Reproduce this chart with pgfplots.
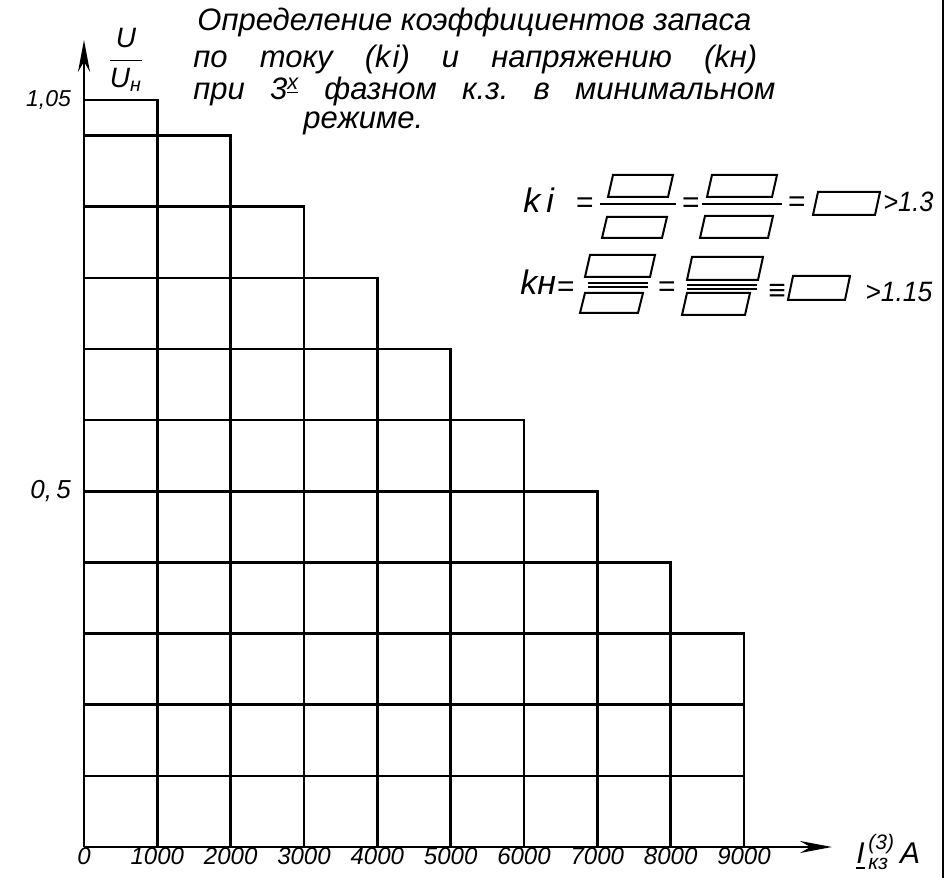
\documentclass[border=0pt]{standalone}
\usepackage{amsmath}
\usepackage{graphicx}
\usepackage{fontspec}
\setmainfont{Liberation Sans}
\usepackage{pgfplots}
\pgfplotsset{compat=1.18}
\usetikzlibrary{arrows.meta}
\frenchspacing

% parallelogram box: left x, top y, right x, bottom y (px, y down)
\newcommand{\pbox}[4]{\draw[line width=1pt] ({#1+5},#2) -- (#3,#2) -- ({#3-5},#4) -- (#1,#4) -- cycle;}
% text from x1 to x2 (px) on baseline y
\newcommand{\w}[4]{\node[anchor=base west, inner sep=0pt] at (#1,#3)
  {\resizebox{\dimexpr(#2pt-#1pt)/2\relax}{\height}{#4}};}

\begin{document}
\begin{tikzpicture}
\path[use as bounding box] (0,0) rectangle (475pt,439pt);
\begin{axis}[
  at={(42pt,15.5pt)}, anchor=south west,
  scale only axis, width=374pt, height=403.5pt,
  xmin=0, xmax=10200, ymin=0, ymax=1.1345,
  axis lines=left,
  axis line style={line width=1.3pt, -{Stealth[length=16pt,width=6pt]}},
  major tick length=0pt,
  scaled x ticks=false,
  xtick={0,1000,...,9000},
  xticklabels={0,1000,2000,3000,4000,5000,6000,7000,8000,9000},
  ytick={0.5,1.05},
  yticklabels={{\fontsize{13}{13}\selectfont 0,\,5},{1,05}},
  x tick label style={font=\itshape\fontsize{12}{12}\selectfont, inner sep=1pt, yshift=1pt},
  y tick label style={font=\itshape\fontsize{11.5}{11.5}\selectfont, xshift=-3pt},
  clip=false,
]
% right edges of the columns (height = level of column on the left)
\addplot[ycomb, no marks, line width=1.3pt, line cap=rect] coordinates {
(1000,1.05) (2000,1.0) (3000,0.9) (4000,0.8) (5000,0.7)
(6000,0.6) (7000,0.5) (8000,0.4) (9000,0.3)
};
% horizontal lines from the axis to the step
\addplot[xcomb, no marks, line width=1.3pt, line cap=rect] coordinates {
(1000,1.05) (2000,1.0) (3000,0.9) (4000,0.8) (5000,0.7)
(6000,0.6) (7000,0.5) (8000,0.4) (9000,0.3) (9000,0.2) (9000,0.1)
};
\end{axis}

\begin{scope}[x=0.5pt, y=-0.5pt, yshift=439pt]
% right frame line
\draw[line width=1.4pt] (943,0) -- (943,878);

% title
\begin{scope}[every node/.style={anchor=base west, inner sep=0pt,
    font=\itshape\fontsize{15.5}{15.5}\selectfont}]
\node at (197,31) {Определение коэффициентов запаса};
\node at (193,68) {\makebox[282pt][s]{по току (k\kern1pt i) и напряжению (kн)}};
\node at (193,100) {\makebox[291pt][s]{при 3\textsuperscript{\underline{х}} фазном к.з. в минимальном}};
\node at (303,129) {режиме.};
\end{scope}

% axis labels
\node[font=\itshape\fontsize{14}{14}\selectfont, inner sep=0pt] at (126,60)
  {$\dfrac{\textit{U}}{\textit{U}_{\textit{н}}}$};
\node[font=\itshape\fontsize{15}{15}\selectfont, anchor=base west, inner sep=0pt] at (856,864)
  {$\underline{\textit{I}}^{\,\textit{(3)}}_{\,\textit{кз}}$\,\textit{A}};

% coefficient formulas
\begin{scope}[every node/.style={anchor=base west, inner sep=0pt},
    font=\itshape\fontsize{17}{17}\selectfont]
\node at (523,213) {k\kern3pt i};
\node at (520,295) {kн};
\end{scope}
\begin{scope}[font=\itshape\fontsize{14}{14}\selectfont]
\w{883}{933}{212}{>1.3}
\w{865}{932}{302}{>1.15}
\end{scope}
\begin{scope}[every node/.style={anchor=center, inner sep=0pt,
    font=\fontsize{15}{15}\selectfont}]
\node at (585,205) {=};
\node at (691,205) {=};
\node at (797,204) {=};
\node at (566,289) {=};
\node at (667,289) {=};
\node at (777,292) {≡};
\end{scope}
\pbox{608}{175}{673}{197}
\draw[line width=1pt] (600,204) -- (676,204);
\pbox{602}{217}{667}{238}
\pbox{707}{175}{777}{197}
\draw[line width=1pt] (702,204) -- (782,204);
\pbox{700}{216}{773}{238}
\pbox{813}{192}{880}{215}

\pbox{585}{255}{655}{277}
\draw[line width=1pt] (588,283) -- (648,283);
\draw[line width=1pt] (588,287) -- (648,287);
\pbox{580}{293}{643}{313}
\pbox{687}{257}{763}{280}
\draw[line width=1pt] (687,285) -- (757,285);
\draw[line width=1pt] (687,289) -- (757,289);
\pbox{682}{293}{750}{315}
\pbox{788}{276}{850}{300}
\end{scope}
\end{tikzpicture}
\end{document}
